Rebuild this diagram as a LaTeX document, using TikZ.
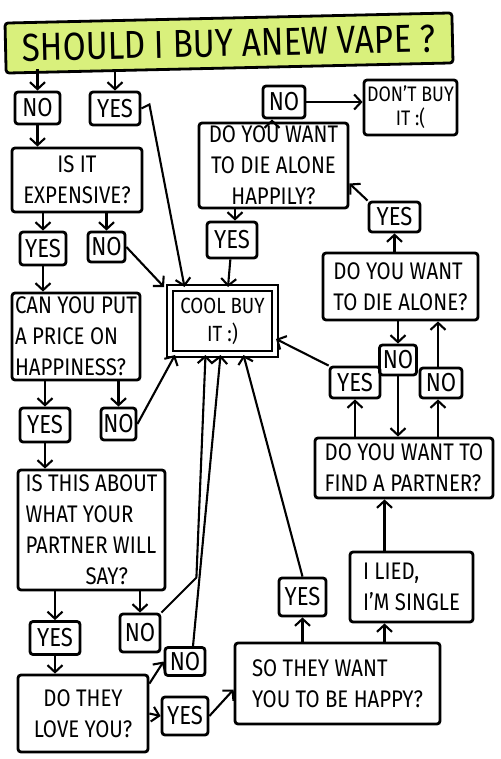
\documentclass[tikz,border=0pt]{standalone}
\usepackage{fontspec}
\setmainfont{Fira Sans}[FakeStretch=0.85]
\usetikzlibrary{arrows.meta,calc}
\definecolor{titlegreen}{HTML}{D9F07C}
\tikzset{
 qbox/.style={draw, line width=2.8pt, rounded corners=3pt, align=center, inner sep=0pt, font=\fontsize{24}{31}\selectfont},
 lbl/.style={qbox, font=\fontsize{26}{26}\selectfont},
 sz/.style 2 args={minimum width=#1pt, minimum height=#2pt},
 arr/.style={line width=2.1pt, -{Straight Barb[length=7pt,width=15pt,line width=2.1pt]}},
 titlebox/.style={draw, fill=titlegreen, line width=2.8pt, rounded corners=3pt, inner sep=0pt, font=\fontsize{39}{39}\selectfont},
 coolbox/.style={draw, double=white, double distance=3.5pt, line width=2pt, align=center, inner sep=0pt, font=\fontsize{22}{28}\selectfont},
}
\begin{document}
\begin{tikzpicture}[x=1pt,y=-1pt]
\useasboundingbox (0,0) rectangle (500,759);
\fill[white] (0,0) rectangle (500,759);

\node[titlebox, sz={447}{50}, rotate=1.3] (title) at (229,43) {SHOULD I BUY ANEW VAPE ?};

\node[lbl, sz={45}{32}] (no1) at (37.5,108) {NO};
\node[lbl, sz={50}{33}] (yes1) at (115,108.5) {YES};
\node[qbox, sz={130}{64}] (exp) at (77,180) {IS IT\\EXPENSIVE?};
\node[lbl, sz={46}{33}] (yes2) at (43,248.5) {YES};
\node[lbl, sz={37}{30}] (no2) at (106.5,247) {NO};
\node[qbox, sz={128}{87}, align=left] (price) at (76,336.5) {CAN YOU PUT\\A PRICE ON\\HAPPINESS?};
\node[lbl, sz={50}{34}] (yes3) at (45,425) {YES};
\node[lbl, sz={35}{32}] (no3) at (118.5,424) {NO};
\node[qbox, sz={147}{120}, align=left] (partner) at (91.5,530) {IS THIS ABOUT\\WHAT YOUR\\PARTNER WILL\\\hspace*{2.5em}SAY?};
\node[lbl, sz={50}{33}] (yes4) at (55,638) {YES};
\node[lbl, sz={40}{38}] (no4) at (140,633) {NO};
\node[qbox, sz={130}{77}] (love) at (83,713.5) {DO THEY\\LOVE YOU?};
\node[lbl, sz={40}{28}] (no5) at (185,661.5) {NO};
\node[lbl, sz={46}{38}] (yes5) at (185,716) {YES};
\node[qbox, sz={205}{81}, align=left] (happy) at (337.5,683.5) {SO THEY WANT\\YOU TO BE HAPPY?};
\node[lbl, sz={47}{38}] (yes6) at (302.5,597) {YES};
\node[qbox, sz={123}{70}, align=left] (lied) at (411.5,587) {I LIED,\\I’M SINGLE};
\node[qbox, sz={178}{60}, align=left] (find) at (404,468) {DO YOU WANT TO\\FIND A PARTNER?};
\node[lbl, sz={50}{31}] (yes7) at (355,382.5) {YES};
\node[lbl, sz={37}{30}] (no7) at (398,360) {NO};
\node[lbl, sz={42}{30}] (no8) at (441,383) {NO};
\node[qbox, sz={155}{67}, align=left] (alone) at (400.5,286.5) {DO YOU WANT\\TO DIE ALONE?};
\node[lbl, sz={51}{30}] (yes8) at (394.5,217) {YES};
\node[qbox, sz={149}{85}] (happily) at (273.5,165.5) {DO YOU WANT\\TO DIE ALONE\\HAPPILY?};
\node[lbl, sz={50}{36}] (yes9) at (232,240) {YES};
\node[lbl, sz={42}{32}] (no9) at (284,102) {NO};
\node[qbox, sz={93}{55}, font=\fontsize{21}{24}\selectfont] (dont) at (410.5,107.5) {DON’T BUY\\IT :(};
\node[coolbox, sz={105}{66}] (cool) at (222.5,321) {COOL BUY\\IT :)};

% connectors
\draw[arr] (title.south -| no1) -- (no1);
\draw[arr] (title.south -| yes1) -- (yes1);
\draw[arr] (no1.south) -- (no1.south |- exp.north);
\draw[arr] (yes1.east) -- ++(8,-4) -- ([xshift=-38]cool.north);
\draw[arr] (exp.south -| yes2) -- (yes2);
\draw[arr] (exp.south -| no2) -- (no2);
\draw[arr] (no2.east) -- ([xshift=-5]cool.north west);
\draw[arr] (yes2) -- (price.north -| yes2);
\draw[arr] (price.south -| yes3) -- (yes3);
\draw[arr] (price.south -| no3) -- (no3);
\draw[arr] (no3.east) -- ([xshift=6]cool.south west);
\draw[arr] (yes3) -- (partner.north -| yes3);
\draw[arr] (partner.south -| yes4) -- (yes4);
\draw[arr] (partner.south -| no4) -- (no4);
\draw[arr] (no4.north east) -- ++(35,-35) -- ([xshift=-17]cool.south);
\draw[arr] ([xshift=8]no5.north) -- ([xshift=-2]cool.south);
\draw[arr] (yes6.north) -- ([xshift=21]cool.south);
\draw[arr] (yes4) -- (love.north -| yes4);
\draw[arr] ([yshift=-10]love.north east) -- (no5.west);
\draw[arr] (love.east) -- (yes5.west);
\draw[arr] (yes5.east) -- ([yshift=-6]happy.west);
\draw[arr] (happy.north -| yes6) -- (yes6);
\draw[arr] ([xshift=-27]lied.south |- happy.north) -- ([xshift=-27]lied.south);
\draw[arr] ([xshift=-27]lied.north) -- ([xshift=-27]lied.north |- find.south);
\draw[arr] (find.north -| yes7) -- (yes7);
\draw[arr] ([xshift=-3]find.north -| no8) -- ([xshift=-3]no8.south);
\draw[arr] (alone.south -| no7) -- (no7);
\draw[arr] (no7) -- (find.north -| no7);
\draw[arr] ([xshift=-3]no8.north) -- ([xshift=-3]alone.south -| no8);
\draw[arr] (yes7.north west) -- ([yshift=-18]cool.east);
\draw[arr] (alone.north -| yes8) -- (yes8);
\draw[arr] (yes8.north west) -- ([yshift=-18]happily.east);
\draw[arr] ([xshift=-12]happily.north -| no9) -- ([xshift=-12]no9.south);
\draw[arr] (no9.east) -- (no9.east -| dont.west);
\draw[arr] ([xshift=3]happily.south -| yes9) -- ([xshift=3]yes9.north);
\draw[arr] (yes9) -- ([xshift=-4]cool.north -| yes9);
\end{tikzpicture}
\end{document}
